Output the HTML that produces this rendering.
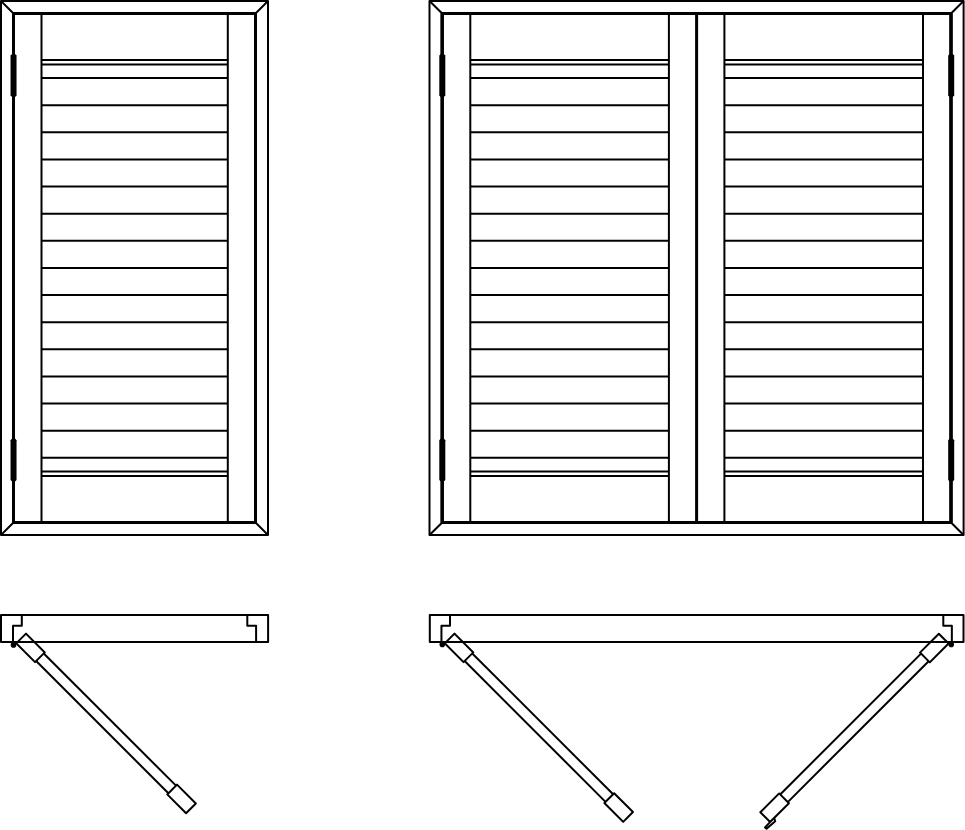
<!DOCTYPE html>
<html><head><meta charset="utf-8"><style>
html,body{margin:0;padding:0;background:#fff;}
svg{display:block;}
</style></head><body>
<svg width="965" height="830" viewBox="0 0 965 830">
<g fill="none" stroke="#000" stroke-linejoin="round" stroke-linecap="butt">
<rect x="1.0" y="1.0" width="267.00" height="534.00" stroke-width="2.0"/>
<rect x="13.5" y="13.5" width="242.00" height="509.00" stroke-width="3.0"/>
<line x1="1.0" y1="1.0" x2="13.5" y2="13.5" stroke-width="2.0"/>
<line x1="268.0" y1="1.0" x2="255.5" y2="13.5" stroke-width="2.0"/>
<line x1="1.0" y1="535.0" x2="13.5" y2="522.5" stroke-width="2.0"/>
<line x1="268.0" y1="535.0" x2="255.5" y2="522.5" stroke-width="2.0"/>
<line x1="41.5" y1="13.5" x2="41.5" y2="522.5" stroke-width="2.0"/>
<line x1="227.8" y1="13.5" x2="227.8" y2="522.5" stroke-width="2.0"/>
<line x1="41.5" y1="60.0" x2="227.8" y2="60.0" stroke-width="2.0"/>
<line x1="41.5" y1="64.45" x2="227.8" y2="64.45" stroke-width="2.0"/>
<line x1="41.5" y1="78.0" x2="227.8" y2="78.0" stroke-width="2.0"/>
<line x1="41.5" y1="105.13" x2="227.8" y2="105.13" stroke-width="2.0"/>
<line x1="41.5" y1="132.26" x2="227.8" y2="132.26" stroke-width="2.0"/>
<line x1="41.5" y1="159.39" x2="227.8" y2="159.39" stroke-width="2.0"/>
<line x1="41.5" y1="186.52" x2="227.8" y2="186.52" stroke-width="2.0"/>
<line x1="41.5" y1="213.65" x2="227.8" y2="213.65" stroke-width="2.0"/>
<line x1="41.5" y1="240.78" x2="227.8" y2="240.78" stroke-width="2.0"/>
<line x1="41.5" y1="267.91" x2="227.8" y2="267.91" stroke-width="2.0"/>
<line x1="41.5" y1="295.04" x2="227.8" y2="295.04" stroke-width="2.0"/>
<line x1="41.5" y1="322.17" x2="227.8" y2="322.17" stroke-width="2.0"/>
<line x1="41.5" y1="349.3" x2="227.8" y2="349.3" stroke-width="2.0"/>
<line x1="41.5" y1="376.43" x2="227.8" y2="376.43" stroke-width="2.0"/>
<line x1="41.5" y1="403.56" x2="227.8" y2="403.56" stroke-width="2.0"/>
<line x1="41.5" y1="430.69" x2="227.8" y2="430.69" stroke-width="2.0"/>
<line x1="41.5" y1="457.82" x2="227.8" y2="457.82" stroke-width="2.0"/>
<line x1="41.5" y1="471.5" x2="227.8" y2="471.5" stroke-width="2.0"/>
<line x1="41.5" y1="475.9" x2="227.8" y2="475.9" stroke-width="2.0"/>
<path d="M12.05 54.00L10.55 55.60V95.50L12.05 97.10H15.05L16.55 95.50V55.60L15.05 54.00Z" fill="#000" stroke="none"/>
<path d="M12.05 438.60L10.55 440.20V479.90L12.05 481.50H15.05L16.55 479.90V440.20L15.05 438.60Z" fill="#000" stroke="none"/>
<rect x="429.5" y="1.0" width="534.10" height="534.00" stroke-width="2.0"/>
<rect x="442.2" y="13.5" width="508.80" height="509.00" stroke-width="3.0"/>
<line x1="442.2" y1="13.5" x2="442.2" y2="522.5" stroke-width="3.4"/>
<line x1="951.0" y1="13.5" x2="951.0" y2="522.5" stroke-width="3.4"/>
<line x1="429.5" y1="1.0" x2="442.2" y2="13.5" stroke-width="2.0"/>
<line x1="963.6" y1="1.0" x2="951.0" y2="13.5" stroke-width="2.0"/>
<line x1="429.5" y1="535.0" x2="442.2" y2="522.5" stroke-width="2.0"/>
<line x1="963.6" y1="535.0" x2="951.0" y2="522.5" stroke-width="2.0"/>
<line x1="470.3" y1="13.5" x2="470.3" y2="522.5" stroke-width="2.0"/>
<line x1="668.9" y1="13.5" x2="668.9" y2="522.5" stroke-width="2.0"/>
<line x1="470.3" y1="60.0" x2="668.9" y2="60.0" stroke-width="2.0"/>
<line x1="470.3" y1="64.45" x2="668.9" y2="64.45" stroke-width="2.0"/>
<line x1="470.3" y1="78.0" x2="668.9" y2="78.0" stroke-width="2.0"/>
<line x1="470.3" y1="105.13" x2="668.9" y2="105.13" stroke-width="2.0"/>
<line x1="470.3" y1="132.26" x2="668.9" y2="132.26" stroke-width="2.0"/>
<line x1="470.3" y1="159.39" x2="668.9" y2="159.39" stroke-width="2.0"/>
<line x1="470.3" y1="186.52" x2="668.9" y2="186.52" stroke-width="2.0"/>
<line x1="470.3" y1="213.65" x2="668.9" y2="213.65" stroke-width="2.0"/>
<line x1="470.3" y1="240.78" x2="668.9" y2="240.78" stroke-width="2.0"/>
<line x1="470.3" y1="267.91" x2="668.9" y2="267.91" stroke-width="2.0"/>
<line x1="470.3" y1="295.04" x2="668.9" y2="295.04" stroke-width="2.0"/>
<line x1="470.3" y1="322.17" x2="668.9" y2="322.17" stroke-width="2.0"/>
<line x1="470.3" y1="349.3" x2="668.9" y2="349.3" stroke-width="2.0"/>
<line x1="470.3" y1="376.43" x2="668.9" y2="376.43" stroke-width="2.0"/>
<line x1="470.3" y1="403.56" x2="668.9" y2="403.56" stroke-width="2.0"/>
<line x1="470.3" y1="430.69" x2="668.9" y2="430.69" stroke-width="2.0"/>
<line x1="470.3" y1="457.82" x2="668.9" y2="457.82" stroke-width="2.0"/>
<line x1="470.3" y1="471.5" x2="668.9" y2="471.5" stroke-width="2.0"/>
<line x1="470.3" y1="475.9" x2="668.9" y2="475.9" stroke-width="2.0"/>
<line x1="724.4" y1="13.5" x2="724.4" y2="522.5" stroke-width="2.0"/>
<line x1="923.0" y1="13.5" x2="923.0" y2="522.5" stroke-width="2.0"/>
<line x1="724.4" y1="60.0" x2="923.0" y2="60.0" stroke-width="2.0"/>
<line x1="724.4" y1="64.45" x2="923.0" y2="64.45" stroke-width="2.0"/>
<line x1="724.4" y1="78.0" x2="923.0" y2="78.0" stroke-width="2.0"/>
<line x1="724.4" y1="105.13" x2="923.0" y2="105.13" stroke-width="2.0"/>
<line x1="724.4" y1="132.26" x2="923.0" y2="132.26" stroke-width="2.0"/>
<line x1="724.4" y1="159.39" x2="923.0" y2="159.39" stroke-width="2.0"/>
<line x1="724.4" y1="186.52" x2="923.0" y2="186.52" stroke-width="2.0"/>
<line x1="724.4" y1="213.65" x2="923.0" y2="213.65" stroke-width="2.0"/>
<line x1="724.4" y1="240.78" x2="923.0" y2="240.78" stroke-width="2.0"/>
<line x1="724.4" y1="267.91" x2="923.0" y2="267.91" stroke-width="2.0"/>
<line x1="724.4" y1="295.04" x2="923.0" y2="295.04" stroke-width="2.0"/>
<line x1="724.4" y1="322.17" x2="923.0" y2="322.17" stroke-width="2.0"/>
<line x1="724.4" y1="349.3" x2="923.0" y2="349.3" stroke-width="2.0"/>
<line x1="724.4" y1="376.43" x2="923.0" y2="376.43" stroke-width="2.0"/>
<line x1="724.4" y1="403.56" x2="923.0" y2="403.56" stroke-width="2.0"/>
<line x1="724.4" y1="430.69" x2="923.0" y2="430.69" stroke-width="2.0"/>
<line x1="724.4" y1="457.82" x2="923.0" y2="457.82" stroke-width="2.0"/>
<line x1="724.4" y1="471.5" x2="923.0" y2="471.5" stroke-width="2.0"/>
<line x1="724.4" y1="475.9" x2="923.0" y2="475.9" stroke-width="2.0"/>
<path d="M440.80 54.00L439.30 55.60V95.50L440.80 97.10H443.80L445.30 95.50V55.60L443.80 54.00Z" fill="#000" stroke="none"/>
<path d="M440.80 438.60L439.30 440.20V479.90L440.80 481.50H443.80L445.30 479.90V440.20L443.80 438.60Z" fill="#000" stroke="none"/>
<path d="M949.70 54.00L948.20 55.60V95.50L949.70 97.10H952.70L954.20 95.50V55.60L952.70 54.00Z" fill="#000" stroke="none"/>
<path d="M949.70 438.60L948.20 440.20V479.90L949.70 481.50H952.70L954.20 479.90V440.20L952.70 438.60Z" fill="#000" stroke="none"/>
<line x1="696.6" y1="13.5" x2="696.6" y2="522.5" stroke-width="3.0"/>
<rect x="1.0" y="615.0" width="267.10" height="27.00" stroke-width="2.0"/>
<path d="M21.8 615.0V625.8H13.00V642.0" stroke-width="2.0"/>
<path d="M247.3 615.0V625.8H256.10V642.0" stroke-width="2.0"/>
<rect x="429.8" y="615.0" width="533.70" height="27.00" stroke-width="2.0"/>
<path d="M450.0 615.0V625.8H441.45V642.0" stroke-width="2.0"/>
<path d="M943.3 615.0V625.8H951.85V642.0" stroke-width="2.0"/>
<g transform="translate(13.4 644.2) rotate(45)"><rect x="1.4" y="-16.4" width="26.6" height="13.8" stroke-width="2.0"/><rect x="215.00" y="-16.4" width="26.6" height="13.8" stroke-width="2.0"/><path d="M28.00 -14.95H215.00M28.00 -4.2H215.00" stroke-width="2.0"/></g>
<g transform="translate(441.9 644.2) rotate(45)"><rect x="1.4" y="-16.4" width="26.6" height="13.8" stroke-width="2.0"/><rect x="227.20" y="-16.4" width="26.6" height="13.8" stroke-width="2.0"/><path d="M28.00 -14.95H227.20M28.00 -4.2H227.20" stroke-width="2.0"/></g>
<g transform="translate(951.4 644.4) scale(-1 1) rotate(45)"><rect x="1.4" y="-16.4" width="26.6" height="13.8" stroke-width="2.0"/><rect x="227.20" y="-16.4" width="26.6" height="13.8" stroke-width="2.0"/><path d="M28.00 -14.95H227.20M28.00 -4.2H227.20" stroke-width="2.0"/><path d="M254.20 -2.6 L261.30 -2.3 L261.00 -0.4 L249.60 0.45 L248.10 -2.6" stroke-width="2.0"/></g>
<circle cx="13.5" cy="644.9" r="2.8" fill="#000" stroke="none"/>
<circle cx="442.3" cy="644.55" r="2.8" fill="#000" stroke="none"/>
<circle cx="951.2" cy="644.45" r="2.8" fill="#000" stroke="none"/>
</g></svg></body></html>
